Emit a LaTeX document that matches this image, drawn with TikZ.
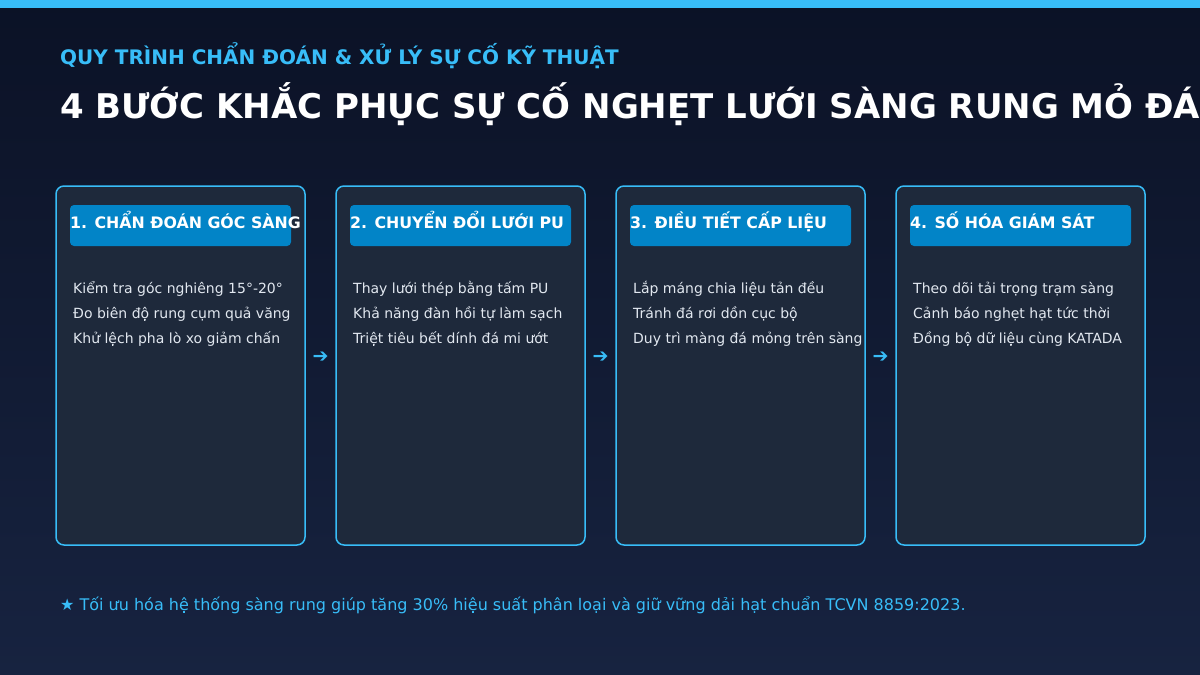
\documentclass[tikz,border=0pt]{standalone}
\usepackage{fontspec}
\setmainfont{DejaVu Sans}
\usetikzlibrary{calc}
\definecolor{bgtop}{HTML}{0B1226}
\definecolor{bgbot}{HTML}{172340}
\definecolor{sky}{HTML}{38BDF8}
\definecolor{cardfill}{HTML}{1E293B}
\definecolor{headfill}{HTML}{0284C7}
\definecolor{bodytxt}{HTML}{E2E8F0}
\tikzset{
  card/.style={draw=sky, line width=1.5pt, fill=cardfill, rounded corners=8pt,
    minimum width=249pt, minimum height=359pt, inner sep=0pt},
  headbox/.style={fill=headfill, rounded corners=4pt, minimum width=221pt,
    minimum height=41pt, inner sep=0pt},
  headtxt/.style={anchor=base west, inner sep=0pt, text=white,
    font=\fontsize{15.8}{18}\selectfont\bfseries},
  bodyline/.style={anchor=base west, inner sep=0pt, text=bodytxt,
    font=\fontsize{14}{16}\selectfont},
  arrowtxt/.style={inner sep=0pt, text=sky, font=\fontsize{19}{20}\selectfont},
}
\begin{document}
\begin{tikzpicture}[x=1pt,y=-1pt]
\useasboundingbox (0,0) rectangle (1200,675);
\begin{scope}
\clip (0,0) rectangle (1200,675);
\shade[top color=bgtop, bottom color=bgbot] (0,0) rectangle (1200,675);
\fill[sky] (0,0) rectangle (1200,8);
\node[anchor=base west, inner sep=0pt, text=sky, font=\fontsize{20}{22}\selectfont\bfseries] (sub) at (60,64) {QUY TRÌNH CHẨN ĐOÁN \& XỬ LÝ SỰ CỐ KỸ THUẬT};
\node[anchor=base west, inner sep=0pt, text=white, font=\fontsize{34}{40}\selectfont\bfseries] (title) at (60,118) {4 BƯỚC KHẮC PHỤC SỰ CỐ NGHẸT LƯỚI SÀNG RUNG MỎ ĐÁ};

\foreach \i/\x in {1/180.5, 2/460.5, 3/740.5, 4/1020.5}{
  \node[card] (c\i) at (\x,365.5) {};
  \node[headbox] (h\i) at (\x,225.5) {};
}
\node[headtxt] (t1) at (70,228) {1. CHẨN ĐOÁN GÓC SÀNG};
\node[headtxt] (t2) at (350,228) {2. CHUYỂN ĐỔI LƯỚI PU};
\node[headtxt] (t3) at (630,228) {3. ĐIỀU TIẾT CẤP LIỆU};
\node[headtxt] (t4) at (910,228) {4. SỐ HÓA GIÁM SÁT};

\node[bodyline] (b11) at (73,293) {Kiểm tra góc nghiêng 15°-20°};
\node[bodyline] (b12) at (73,318) {Đo biên độ rung cụm quả văng};
\node[bodyline] (b13) at (73,343) {Khử lệch pha lò xo giảm chấn};
\node[bodyline] (b21) at (353,293) {Thay lưới thép bằng tấm PU};
\node[bodyline] (b22) at (353,318) {Khả năng đàn hồi tự làm sạch};
\node[bodyline] (b23) at (353,343) {Triệt tiêu bết dính đá mi ướt};
\node[bodyline] (b31) at (633,293) {Lắp máng chia liệu tản đều};
\node[bodyline] (b32) at (633,318) {Tránh đá rơi dồn cục bộ};
\node[bodyline] (b33) at (633,343) {Duy trì màng đá mỏng trên sàng};
\node[bodyline] (b41) at (913,293) {Theo dõi tải trọng trạm sàng};
\node[bodyline] (b42) at (913,318) {Cảnh báo nghẹt hạt tức thời};
\node[bodyline] (b43) at (913,343) {Đồng bộ dữ liệu cùng KATADA};

\node[arrowtxt] (a1) at (320.5,357) {➔};
\node[arrowtxt] (a2) at (600.5,357) {➔};
\node[arrowtxt] (a3) at (880.5,357) {➔};

\node[anchor=base west, inner sep=0pt, text=sky, font=\fontsize{16}{18}\selectfont] (foot) at (60,610) {★ Tối ưu hóa hệ thống sàng rung giúp tăng 30\% hiệu suất phân loại và giữ vững dải hạt chuẩn TCVN 8859:2023.};
\end{scope}
\end{tikzpicture}
\end{document}
